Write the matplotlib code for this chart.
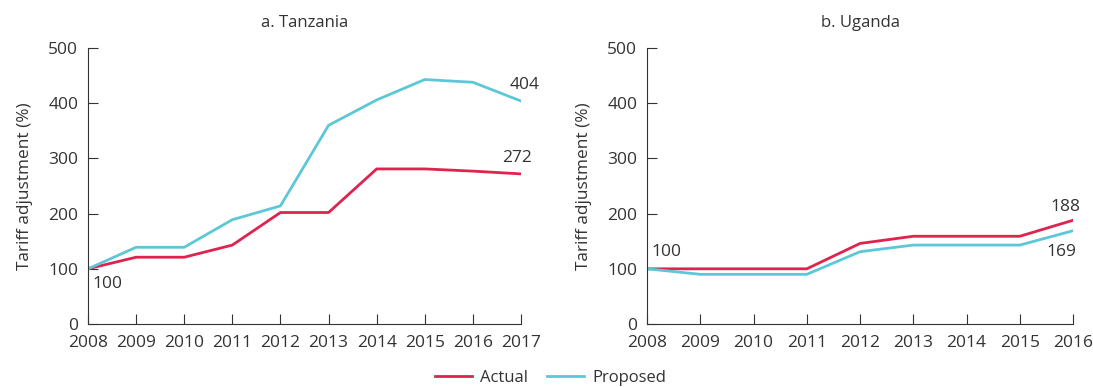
import matplotlib
matplotlib.use("Agg")
import matplotlib.pyplot as plt

plt.rcParams['font.family'] = ['Open Sans', 'DejaVu Sans']
plt.rcParams['text.color'] = '#333333'
plt.rcParams['axes.labelcolor'] = '#333333'
plt.rcParams['xtick.color'] = '#333333'
plt.rcParams['ytick.color'] = '#333333'

# data
tz_years = [2008, 2009, 2010, 2011, 2012, 2013, 2014, 2015, 2016, 2017]
tz_actual = [100, 121, 121, 143, 202, 202, 281, 281, 277, 272]
tz_proposed = [100, 139, 139, 189, 214, 360, 406, 443, 438, 404]

ug_years = [2008, 2009, 2010, 2011, 2012, 2013, 2014, 2015, 2016]
ug_actual = [100, 100, 100, 100, 146, 159, 159, 159, 188]
ug_proposed = [100, 90, 90, 90, 131, 143, 143, 143, 169]

red = '#e0234e'
cyan = '#5cc8d7'
fs = 12.5

fig = plt.figure(figsize=(10.93, 3.87), dpi=100)
ax1 = fig.add_axes([0.0805, 0.1628, 0.3962, 0.713])
ax2 = fig.add_axes([0.5920, 0.1628, 0.3898, 0.713])


def style(ax, years, title):
    ax.set_xlim(years[0], years[-1])
    ax.set_ylim(0, 500)
    ax.set_xticks(years)
    ax.set_yticks([0, 100, 200, 300, 400, 500])
    ax.spines['top'].set_visible(False)
    ax.spines['right'].set_visible(False)
    ax.spines['left'].set_color('#333333')
    ax.spines['bottom'].set_color('#333333')
    ax.tick_params(axis='x', direction='in', length=7, labelsize=fs, pad=8)
    ax.tick_params(axis='y', direction='in', length=7, labelsize=fs, pad=7)
    ax.set_ylabel('Tariff adjustment (%)', fontsize=12.4, labelpad=11)
    ax.set_title(title, fontsize=12, pad=15)


def label(ax, x, y, text, dx, dy, ha):
    ax.annotate(text, (x, y), xytext=(dx, dy), textcoords='offset points',
                ha=ha, va='baseline', fontsize=fs)


l1, = ax1.plot(tz_years, tz_actual, color=red, lw=2, label='Actual')
l2, = ax1.plot(tz_years, tz_proposed, color=cyan, lw=2, label='Proposed')
style(ax1, tz_years, 'a. Tanzania')
label(ax1, tz_years[0], tz_actual[0], str(tz_actual[0]), 3, -14, 'left')
label(ax1, tz_years[-1], tz_actual[-1], str(tz_actual[-1]), 8, 8.4, 'right')
label(ax1, tz_years[-1], tz_proposed[-1], str(tz_proposed[-1]), 13.7, 8.4, 'right')

ax2.plot(ug_years, ug_actual, color=red, lw=2)
ax2.plot(ug_years, ug_proposed, color=cyan, lw=2)
style(ax2, ug_years, 'b. Uganda')
label(ax2, ug_years[0], ug_actual[0], str(ug_actual[0]), 3, 8.9, 'left')
label(ax2, ug_years[-1], ug_actual[-1], str(ug_actual[-1]), 5.5, 6.5, 'right')
label(ax2, ug_years[-1], ug_proposed[-1], str(ug_proposed[-1]), 2, -18, 'right')

fig.legend(handles=[l1, l2], loc='center', bbox_to_anchor=(0.5037, 0.023),
           ncol=2, frameon=False, fontsize=12, handlelength=2.25,
           handletextpad=0.5, columnspacing=1.1)

fig.savefig('out.png', dpi=100)
